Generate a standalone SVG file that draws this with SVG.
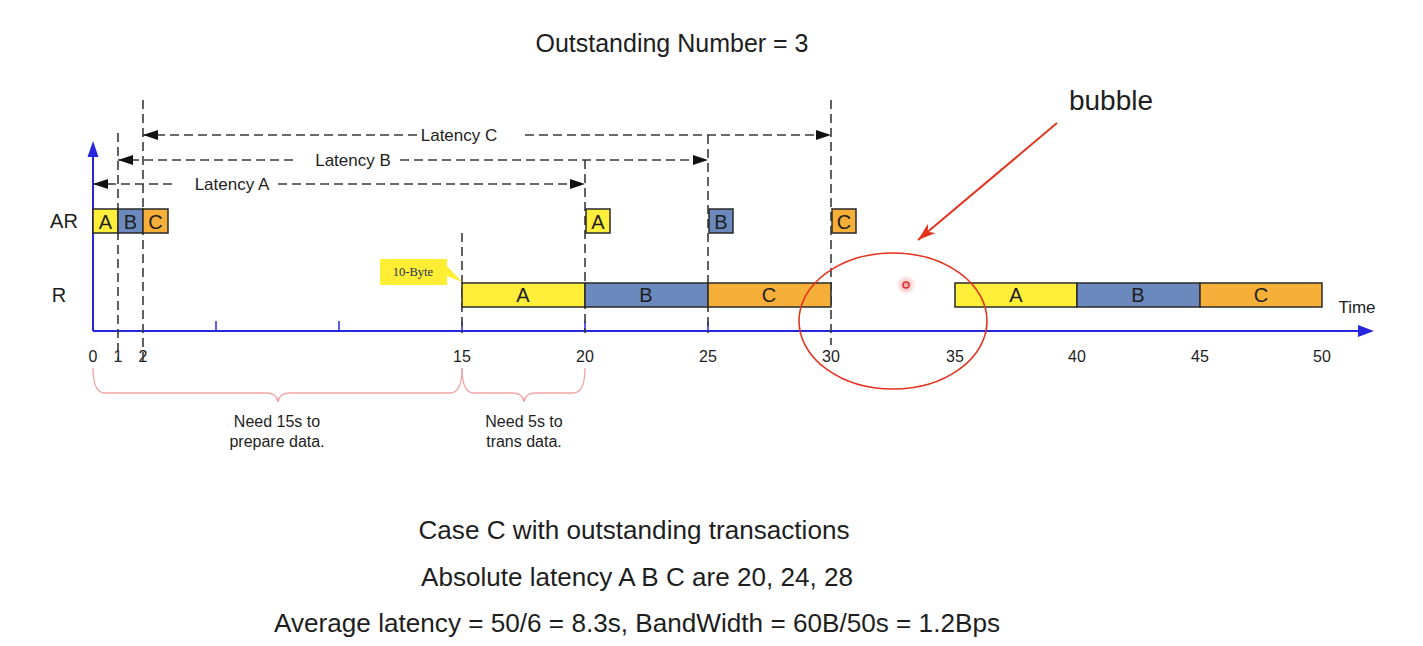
<svg xmlns="http://www.w3.org/2000/svg" width="1423" height="646" viewBox="0 0 1423 646">
<style>
.t{font-family:"Liberation Sans",Arial,Helvetica,sans-serif;fill:#1e1e1e}
.dash{stroke:#3a3a3a;stroke-width:1.6;stroke-dasharray:9 5;fill:none}
.box{stroke:#2a2a2a;stroke-width:1.5}
.y{fill:#FFEF3A}.b{fill:#6C89BD}.o{fill:#F6AF38}
.axis{stroke:#2626dd;stroke-width:2;fill:none}
.brace{stroke:#f2a5a5;stroke-width:1.3;fill:none}
.red{stroke:#e2341f;fill:none}
</style>
<defs>
<marker id="ah" markerUnits="userSpaceOnUse" markerWidth="16" markerHeight="12" refX="15" refY="5" orient="auto-start-reverse" viewBox="0 0 16 12">
<path d="M0,0 L15,5 L0,10 z" fill="#111"/>
</marker>
<marker id="ra" markerUnits="userSpaceOnUse" markerWidth="20" markerHeight="14" refX="18" refY="6" orient="auto" viewBox="0 0 20 14">
<path d="M0,0 L18,6 L0,12 L5,6 z" fill="#e2341f"/>
</marker>
<radialGradient id="glow"><stop offset="0" stop-color="#f08080" stop-opacity="0.7"/><stop offset="1" stop-color="#f08080" stop-opacity="0"/></radialGradient>
</defs>
<rect width="1423" height="646" fill="#fff"/>

<text class="t" x="672" y="52" font-size="25" text-anchor="middle">Outstanding Number = 3</text>

<g id="axes">
<line class="axis" x1="93" y1="331" x2="93" y2="154"/>
<path d="M93,141 L87.5,157 L98.5,157 z" fill="#2626dd"/>
<line class="axis" x1="93" y1="331" x2="1360" y2="331"/>
<path d="M1374,331 L1358,325 L1358,337 z" fill="#2626dd"/>
<path d="M216,321V331M339,321V331M462,321V331M585,321V331M708,321V331" stroke="#2626dd" stroke-width="1.5"/>
<text class="t" x="1357" y="313" font-size="17" text-anchor="middle">Time</text>
<g font-size="16" text-anchor="middle">
<text class="t" x="93" y="362">0</text>
<text class="t" x="118" y="362">1</text>
<text class="t" x="143" y="362">2</text>
<text class="t" x="462" y="362">15</text>
<text class="t" x="585" y="362">20</text>
<text class="t" x="708" y="362">25</text>
<text class="t" x="831" y="362">30</text>
<text class="t" x="955" y="362">35</text>
<text class="t" x="1077" y="362">40</text>
<text class="t" x="1200" y="362">45</text>
<text class="t" x="1322" y="362">50</text>
</g>
<text class="t" x="64" y="228" font-size="20" text-anchor="middle">AR</text>
<text class="t" x="59" y="302" font-size="20" text-anchor="middle">R</text>
</g>

<g id="connectors">
<path class="dash" d="M118,133V362M143,100V362M462,233V333M585,160V333M708,135V333M831,100V345"/>
<line class="dash" x1="417" y1="135" x2="143" y2="135" marker-end="url(#ah)"/>
<line class="dash" x1="525" y1="135" x2="831" y2="135" marker-end="url(#ah)"/>
<line class="dash" x1="293" y1="160" x2="118" y2="160" marker-end="url(#ah)"/>
<line class="dash" x1="400" y1="160" x2="708" y2="160" marker-end="url(#ah)"/>
<line class="dash" x1="172" y1="184" x2="93" y2="184" marker-end="url(#ah)"/>
<line class="dash" x1="278" y1="184" x2="585" y2="184" marker-end="url(#ah)"/>
<text class="t" x="459" y="141" font-size="17" text-anchor="middle">Latency C</text>
<text class="t" x="353" y="166" font-size="17" text-anchor="middle">Latency B</text>
<text class="t" x="232" y="190" font-size="17" text-anchor="middle">Latency A</text>
<line class="red" stroke-width="2" x1="1057" y1="123" x2="918" y2="240" marker-end="url(#ra)"/>
</g>

<g id="ar-requests" font-size="20" text-anchor="middle">
<rect class="box y" x="93" y="209" width="25" height="24"/>
<rect class="box b" x="118" y="209" width="25" height="24"/>
<rect class="box o" x="143" y="209" width="25" height="24"/>
<text class="t" x="105.5" y="228.5">A</text>
<text class="t" x="130.5" y="228.5">B</text>
<text class="t" x="155.5" y="228.5">C</text>
<rect class="box y" x="586" y="209" width="24" height="24"/>
<rect class="box b" x="709" y="209" width="24" height="24"/>
<rect class="box o" x="832" y="209" width="24" height="24"/>
<text class="t" x="598" y="228.5">A</text>
<text class="t" x="721" y="228.5">B</text>
<text class="t" x="844" y="228.5">C</text>
</g>

<g id="r-data" font-size="20" text-anchor="middle">
<rect class="box y" x="462" y="283" width="123" height="24"/>
<rect class="box b" x="585" y="283" width="123" height="24"/>
<rect class="box o" x="708" y="283" width="123" height="24"/>
<text class="t" x="523" y="302">A</text>
<text class="t" x="646" y="302">B</text>
<text class="t" x="769" y="302">C</text>
<rect class="box y" x="955" y="283" width="122" height="24"/>
<rect class="box b" x="1077" y="283" width="123" height="24"/>
<rect class="box o" x="1200" y="283" width="122" height="24"/>
<text class="t" x="1016" y="302">A</text>
<text class="t" x="1138" y="302">B</text>
<text class="t" x="1261" y="302">C</text>
</g>

<g id="callout">
<path d="M380,259 H447 V266 L462,282 L447,276 V285 H380 z" fill="#FFEE33"/>
<text x="413" y="276" font-family="Liberation Serif,'Times New Roman',serif" font-size="12.5" fill="#23304f" text-anchor="middle">10-Byte</text>
</g>

<g id="braces">
<path class="brace" d="M93,368 Q93,393 105,393 H266 Q277,393 278,402 Q279,393 290,393 H450 Q462,393 462,368"/>
<path class="brace" d="M462,368 Q462,393 474,393 H512 Q523,393 524,402 Q525,393 536,393 H573 Q585,393 585,368"/>
<text class="t" x="277" y="427" font-size="16" text-anchor="middle">Need 15s to</text>
<text class="t" x="277" y="447" font-size="16" text-anchor="middle">prepare data.</text>
<text class="t" x="524" y="427" font-size="16" text-anchor="middle">Need 5s to</text>
<text class="t" x="524" y="447" font-size="16" text-anchor="middle">trans data.</text>
</g>

<g id="bubble">
<ellipse class="red" stroke="#d83a2e" stroke-width="1.6" cx="893" cy="321" rx="94" ry="68"/>
<text class="t" x="1111" y="110" font-size="28" text-anchor="middle">bubble</text>
<circle cx="906" cy="285" r="10" fill="url(#glow)"/>
<circle cx="906" cy="285" r="3" fill="none" stroke="#e03030" stroke-width="1.5"/>
</g>

<g id="summary" text-anchor="middle">
<text class="t" x="634" y="539" font-size="26" textLength="431" lengthAdjust="spacingAndGlyphs">Case C with outstanding transactions</text>
<text class="t" x="637" y="586" font-size="26" textLength="432" lengthAdjust="spacingAndGlyphs">Absolute latency A B C are 20, 24, 28</text>
<text class="t" x="637" y="632" font-size="26" textLength="726" lengthAdjust="spacingAndGlyphs">Average latency = 50/6 = 8.3s, BandWidth = 60B/50s = 1.2Bps</text>
</g>
</svg>
